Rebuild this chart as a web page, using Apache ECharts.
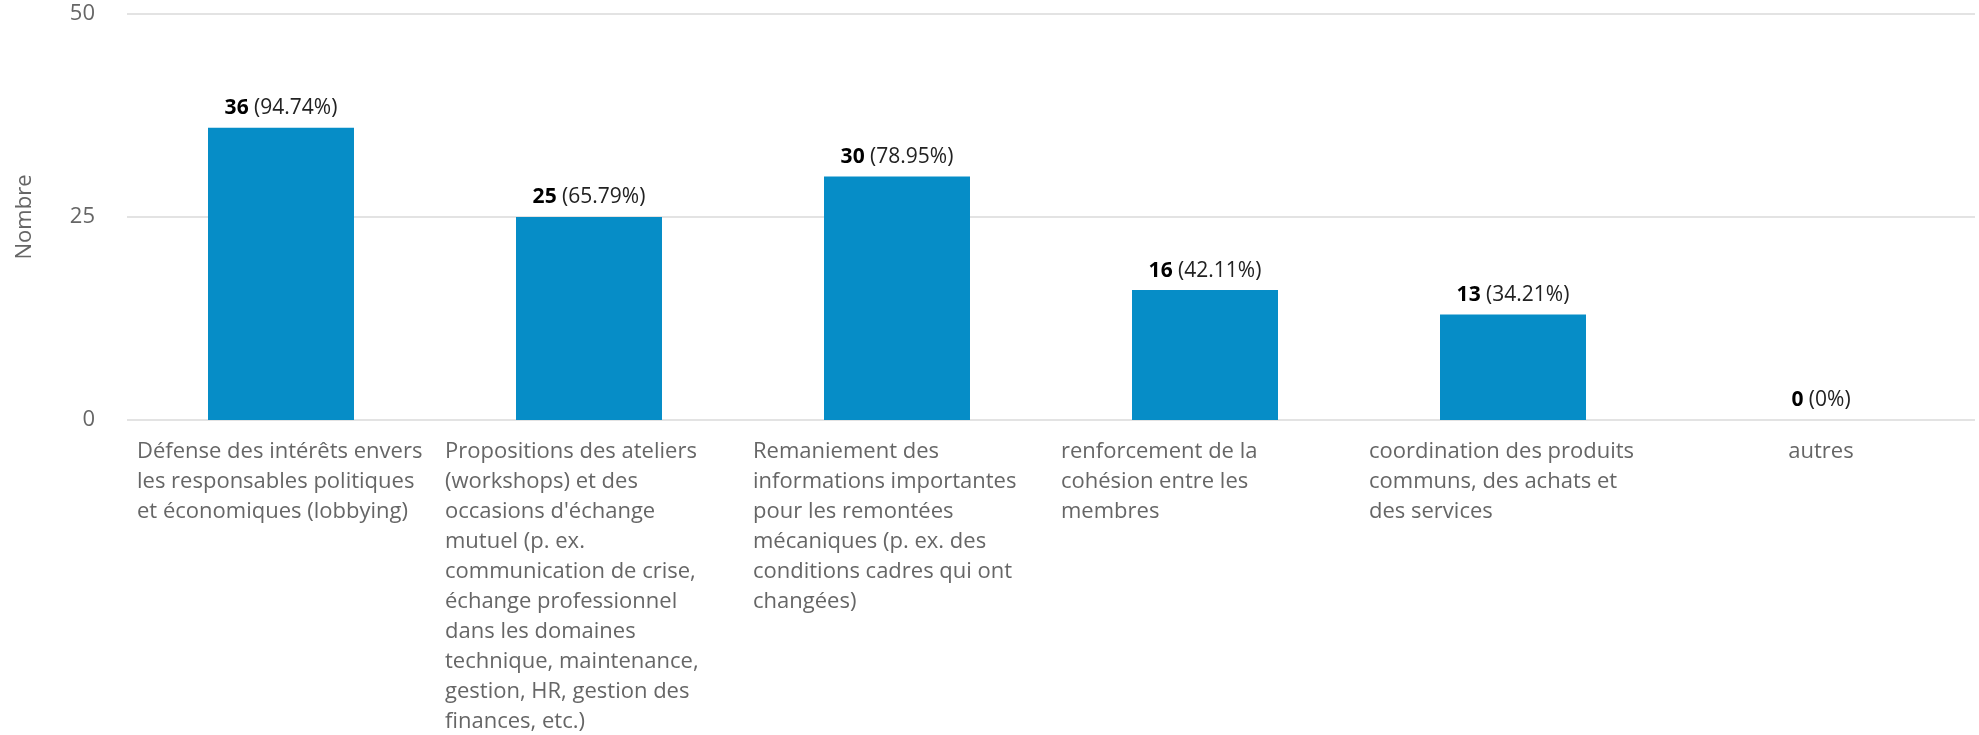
<!DOCTYPE html>
<html>
<head>
<meta charset="utf-8">
<script src="https://cdn.jsdelivr.net/npm/echarts@6/dist/echarts.min.js"></script>
<style>
html,body{margin:0;padding:0;background:#fff;}
#chart{width:1979px;height:735px;}
</style>
</head>
<body>
<div id="chart"></div>
<script>
const categories = [
  "Défense des intérêts envers\nles responsables politiques\net économiques (lobbying)",
  "Propositions des ateliers\n(workshops) et des\noccasions d'échange\nmutuel (p. ex.\ncommunication de crise,\néchange professionnel\ndans les domaines\ntechnique, maintenance,\ngestion, HR, gestion des\nfinances, etc.)",
  "Remaniement des\ninformations importantes\npour les remontées\nmécaniques (p. ex. des\nconditions cadres qui ont\nchangées)",
  "renforcement de la\ncohésion entre les\nmembres",
  "coordination des produits\ncommuns, des achats et\ndes services",
  "autres"
];
const counts = [36, 25, 30, 16, 13, 0];
const percents = ["94.74%", "65.79%", "78.95%", "42.11%", "34.21%", "0%"];
const yTicks = { min: 0, max: 50, interval: 25 };
const axisTitle = "Nombre";

const FONT = "'Open Sans', sans-serif";
const chart = echarts.init(document.getElementById('chart'), null, { renderer: 'canvas' });
chart.setOption({
  animation: false,
  backgroundColor: '#ffffff',
  grid: { left: 127, right: 4, top: 14, bottom: 315, containLabel: false },
  xAxis: {
    type: 'category',
    data: categories,
    axisLine: { show: false },
    axisTick: { show: false },
    splitLine: { show: false },
    axisLabel: {
      interval: 0,
      margin: 17,
      align: 'center',
      verticalAlign: 'top',
      formatter: function (v) {
        const lines = v.split('\n');
        const key = lines.length > 1 ? 'w' : 's';
        return lines.map(function (l) { return '{' + key + '|' + l + '}'; }).join('\n');
      },
      rich: {
        w: { align: 'left', width: 288, fontSize: 22, lineHeight: 30, color: '#666666', fontFamily: FONT },
        s: { align: 'left', fontSize: 22, lineHeight: 30, color: '#666666', fontFamily: FONT }
      }
    }
  },
  yAxis: {
    type: 'value',
    min: yTicks.min,
    max: yTicks.max,
    interval: yTicks.interval,
    name: axisTitle,
    nameLocation: 'middle',
    nameGap: 91,
    nameTextStyle: { fontSize: 22, color: '#666666', fontFamily: FONT },
    axisLine: { show: false },
    axisTick: { show: false },
    axisLabel: { fontSize: 22, color: '#666666', fontFamily: FONT, margin: 32, padding: [5, 0, 0, 0] },
    splitLine: { lineStyle: { color: '#e3e3e3', width: 2 } }
  },
  series: [{
    type: 'bar',
    data: counts,
    barWidth: '47.4%',
    itemStyle: { color: '#068dc7' },
    label: {
      show: true,
      position: 'top',
      distance: 9,
      formatter: function (p) {
        return '{b|' + p.value + '}{r| (' + percents[p.dataIndex] + ')}';
      },
      rich: {
        b: { fontSize: 21, fontWeight: 'bold', color: '#000000', fontFamily: FONT },
        r: { fontSize: 21, color: '#222222', fontFamily: FONT }
      }
    }
  }]
});
</script>
</body>
</html>
